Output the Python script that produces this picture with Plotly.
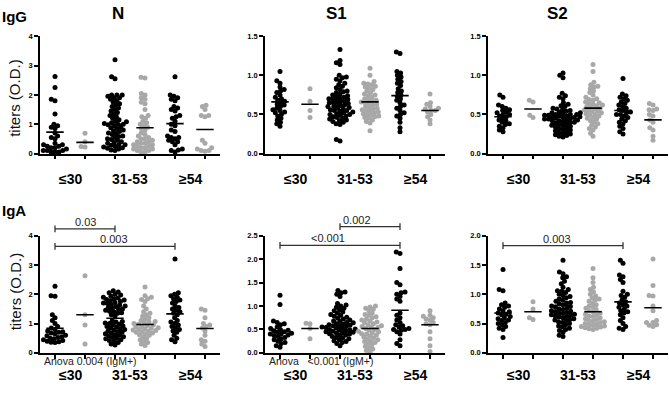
import numpy as np
import plotly.graph_objects as go

# ---------------- data ----------------
age_groups = ["≤30", "31-53", "≥54"]
antigens = ["N", "S1", "S2"]
isotypes = ["IgG", "IgA"]

# each panel: six groups -> (≤30 black, ≤30 grey, 31-53 black, 31-53 grey, ≥54 black, ≥54 grey)
N_IgG = [
    [2.63, 2.25, 1.85, 1.8, 1.35, 1.0, 0.95, 0.9, 0.85, 0.7, 0.6, 0.55, 0.5, 0.35, 0.3, 0.3,
     0.25, 0.25, 0.2, 0.2, 0.15, 0.15, 0.1, 0.1, 0.1, 0.05, 0.05, 0.05],
    [0.69, 0.4, 0.24, 0.22],
    [3.2, 2.62, 2.55, 2.0, 2.0, 2.0, 1.95, 1.9, 1.9, 1.85, 1.8, 1.75, 1.7, 1.65, 1.6, 1.55, 1.5,
     1.45, 1.4, 1.35, 1.3, 1.25, 1.2, 1.15, 1.1, 1.08, 1.05, 1.02, 1.0, 1.0, 0.98, 0.95, 0.9, 0.88,
     0.85, 0.8, 0.78, 0.75, 0.7, 0.68, 0.65, 0.6, 0.58, 0.55, 0.5, 0.48, 0.45, 0.4, 0.38, 0.35, 0.3,
     0.3, 0.28, 0.25, 0.22, 0.2, 0.18, 0.15, 0.12, 0.1],
    [2.6, 2.58, 2.05, 2.0, 1.9, 1.85, 1.75, 1.7, 1.5, 1.3, 1.25, 1.2, 1.1, 1.05, 1.0, 0.95, 0.9,
     0.85, 0.8, 0.7, 0.65, 0.6, 0.55, 0.5, 0.5, 0.45, 0.4, 0.4, 0.35, 0.35, 0.3, 0.3, 0.25, 0.25,
     0.2, 0.2, 0.15, 0.15, 0.1, 0.1, 0.05, 0.05],
    [2.62, 2.0, 1.95, 1.9, 1.85, 1.8, 1.6, 1.55, 1.5, 1.45, 1.3, 1.25, 1.2, 1.1, 1.0, 0.95, 0.8,
     0.75, 0.6, 0.55, 0.55, 0.5, 0.45, 0.4, 0.4, 0.3, 0.15, 0.12, 0.1, 0.05],
    [1.65, 1.6, 1.5, 1.3, 1.3, 1.25, 0.45, 0.35, 0.2, 0.15, 0.1, 0.1, 0.08],
]
N_IgG_line = [0.73, 0.38, 1.0, 0.88, 1.02, 0.82]

S1_IgG = [
    [1.05, 0.93, 0.9, 0.85, 0.82, 0.8, 0.78, 0.75, 0.72, 0.7, 0.68, 0.67, 0.65, 0.63, 0.62, 0.6,
     0.58, 0.56, 0.55, 0.53, 0.52, 0.5, 0.48, 0.45, 0.43, 0.4, 0.38, 0.35],
    [0.83, 0.67, 0.55, 0.46],
    [1.33, 1.19, 1.16, 1.14, 1.0, 0.98, 0.97, 0.95, 0.93, 0.9, 0.88, 0.86, 0.84, 0.82, 0.8, 0.79,
     0.78, 0.76, 0.75, 0.74, 0.73, 0.72, 0.71, 0.7, 0.7, 0.69, 0.68, 0.67, 0.66, 0.65, 0.65, 0.64,
     0.63, 0.62, 0.61, 0.6, 0.6, 0.59, 0.58, 0.57, 0.56, 0.55, 0.55, 0.54, 0.53, 0.52, 0.51, 0.5,
     0.5, 0.49, 0.48, 0.47, 0.46, 0.45, 0.44, 0.43, 0.42, 0.41, 0.4, 0.38, 0.37, 0.18, 0.16],
    [1.09, 1.0, 0.92, 0.9, 0.89, 0.88, 0.86, 0.85, 0.84, 0.82, 0.8, 0.78, 0.76, 0.75, 0.74, 0.72,
     0.7, 0.69, 0.68, 0.67, 0.66, 0.65, 0.64, 0.63, 0.62, 0.6, 0.59, 0.58, 0.57, 0.56, 0.55, 0.54,
     0.53, 0.52, 0.51, 0.5, 0.49, 0.48, 0.47, 0.46, 0.45, 0.43, 0.41, 0.39, 0.29],
    [1.3, 1.28, 1.05, 1.03, 1.0, 0.98, 0.95, 0.92, 0.9, 0.87, 0.83, 0.8, 0.78, 0.75, 0.73, 0.7,
     0.68, 0.65, 0.62, 0.6, 0.58, 0.55, 0.52, 0.5, 0.48, 0.45, 0.4, 0.33, 0.28],
    [0.76, 0.65, 0.63, 0.6, 0.58, 0.57, 0.55, 0.55, 0.53, 0.5, 0.47, 0.43, 0.38],
]
S1_IgG_line = [0.66, 0.63, 0.68, 0.66, 0.74, 0.55]

S2_IgG = [
    [0.75, 0.72, 0.62, 0.6, 0.58, 0.56, 0.55, 0.53, 0.52, 0.5, 0.5, 0.48, 0.47, 0.45, 0.43, 0.42,
     0.4, 0.38, 0.37, 0.35, 0.33, 0.3, 0.28],
    [0.68, 0.66, 0.49, 0.46],
    [1.03, 1.0, 0.97, 0.77, 0.74, 0.72, 0.7, 0.65, 0.63, 0.61, 0.6, 0.58, 0.57, 0.56, 0.55, 0.54,
     0.53, 0.52, 0.52, 0.51, 0.5, 0.5, 0.5, 0.49, 0.49, 0.48, 0.48, 0.47, 0.47, 0.46, 0.46, 0.45,
     0.45, 0.44, 0.44, 0.43, 0.43, 0.42, 0.42, 0.41, 0.4, 0.4, 0.39, 0.38, 0.37, 0.36, 0.36, 0.35,
     0.34, 0.33, 0.32, 0.31, 0.3, 0.29, 0.28, 0.27, 0.26, 0.25, 0.24, 0.23, 0.22, 0.21],
    [1.14, 1.05, 0.91, 0.88, 0.86, 0.85, 0.83, 0.8, 0.78, 0.75, 0.72, 0.7, 0.69, 0.68, 0.66, 0.65,
     0.64, 0.63, 0.62, 0.61, 0.6, 0.59, 0.58, 0.57, 0.56, 0.55, 0.54, 0.53, 0.52, 0.51, 0.5, 0.49,
     0.48, 0.46, 0.45, 0.44, 0.42, 0.4, 0.38, 0.36, 0.34, 0.32, 0.3, 0.26, 0.22],
    [0.96, 0.76, 0.74, 0.72, 0.7, 0.68, 0.66, 0.64, 0.62, 0.6, 0.58, 0.56, 0.55, 0.53, 0.52, 0.5,
     0.5, 0.48, 0.46, 0.44, 0.42, 0.4, 0.38, 0.35, 0.32, 0.28, 0.25],
    [0.64, 0.62, 0.57, 0.56, 0.55, 0.5, 0.48, 0.43, 0.4, 0.33, 0.3, 0.22, 0.17],
]
S2_IgG_line = [0.47, 0.57, 0.48, 0.58, 0.55, 0.43]

N_IgA = [
    [2.27, 1.95, 1.93, 1.3, 1.2, 1.1, 1.0, 0.9, 0.85, 0.8, 0.75, 0.72, 0.7, 0.68, 0.65, 0.6, 0.58,
     0.55, 0.52, 0.5, 0.48, 0.45, 0.42, 0.4, 0.38, 0.36, 0.35],
    [2.63, 1.3, 0.95, 0.3],
    [2.12, 2.08, 2.05, 2.0, 1.97, 1.93, 1.9, 1.87, 1.85, 1.82, 1.8, 1.78, 1.75, 1.72, 1.7, 1.68,
     1.65, 1.62, 1.6, 1.58, 1.55, 1.52, 1.5, 1.48, 1.45, 1.42, 1.4, 1.37, 1.35, 1.3, 1.25, 1.1,
     1.07, 1.05, 1.02, 1.0, 0.98, 0.95, 0.92, 0.9, 0.88, 0.85, 0.82, 0.8, 0.78, 0.75, 0.72, 0.7,
     0.68, 0.65, 0.62, 0.6, 0.58, 0.55, 0.52, 0.5, 0.48, 0.45, 0.42, 0.4, 0.35, 0.3, 0.27],
    [2.25, 1.95, 1.9, 1.85, 1.82, 1.75, 1.6, 1.5, 1.4, 1.35, 1.3, 1.25, 1.2, 1.15, 1.1, 1.07, 1.05,
     1.02, 1.0, 0.98, 0.95, 0.93, 0.9, 0.88, 0.86, 0.84, 0.82, 0.8, 0.78, 0.76, 0.74, 0.72, 0.7,
     0.68, 0.65, 0.62, 0.6, 0.55, 0.5, 0.45, 0.4, 0.35, 0.3, 0.25],
    [3.2, 2.05, 2.0, 1.95, 1.9, 1.85, 1.8, 1.75, 1.7, 1.6, 1.55, 1.5, 1.45, 1.4, 1.35, 1.3, 1.2,
     1.1, 1.05, 1.0, 0.95, 0.9, 0.85, 0.8, 0.75, 0.7, 0.6, 0.5, 0.45, 0.38],
    [1.5, 1.45, 1.2, 1.0, 0.95, 0.9, 0.85, 0.75, 0.6, 0.45, 0.4, 0.3, 0.22],
]
N_IgA_line = [0.84, 1.3, 1.18, 0.97, 1.33, 0.83]

S1_IgA = [
    [1.23, 1.03, 0.68, 0.65, 0.62, 0.6, 0.55, 0.52, 0.5, 0.48, 0.47, 0.45, 0.44, 0.42, 0.4, 0.4,
     0.38, 0.37, 0.35, 0.33, 0.3, 0.28, 0.25, 0.22, 0.2, 0.15, 0.12],
    [0.63, 0.62, 0.52, 0.3],
    [1.33, 1.3, 1.28, 1.25, 1.2, 1.05, 1.02, 1.0, 0.97, 0.95, 0.92, 0.9, 0.87, 0.85, 0.82, 0.8,
     0.78, 0.76, 0.74, 0.72, 0.7, 0.68, 0.67, 0.65, 0.64, 0.62, 0.61, 0.6, 0.59, 0.58, 0.57, 0.56,
     0.55, 0.54, 0.53, 0.52, 0.51, 0.5, 0.49, 0.48, 0.47, 0.46, 0.45, 0.44, 0.43, 0.42, 0.41, 0.4,
     0.38, 0.37, 0.35, 0.33, 0.32, 0.3, 0.28, 0.26, 0.24, 0.22, 0.2, 0.15],
    [1.0, 0.98, 0.95, 0.93, 0.9, 0.85, 0.82, 0.8, 0.77, 0.75, 0.72, 0.7, 0.68, 0.66, 0.64, 0.62,
     0.6, 0.58, 0.56, 0.55, 0.54, 0.52, 0.5, 0.48, 0.46, 0.45, 0.43, 0.41, 0.4, 0.38, 0.36, 0.34,
     0.32, 0.3, 0.28, 0.26, 0.24, 0.22, 0.2, 0.17, 0.14, 0.11, 0.08, 0.05, 0.02],
    [2.15, 2.12, 1.8, 1.5, 1.45, 1.3, 1.28, 1.25, 1.2, 1.15, 1.1, 0.85, 0.8, 0.75, 0.7, 0.65, 0.6,
     0.58, 0.55, 0.52, 0.5, 0.5, 0.48, 0.45, 0.4, 0.28, 0.2, 0.15],
    [0.9, 0.8, 0.78, 0.75, 0.72, 0.7, 0.65, 0.62, 0.6, 0.45, 0.3, 0.15, 0.03],
]
S1_IgA_line = [0.47, 0.52, 0.57, 0.52, 0.91, 0.6]

S2_IgA = [
    [1.42, 1.08, 1.06, 0.85, 0.82, 0.8, 0.78, 0.75, 0.72, 0.7, 0.68, 0.66, 0.65, 0.62, 0.6, 0.58,
     0.56, 0.55, 0.52, 0.5, 0.48, 0.45, 0.42, 0.4, 0.26],
    [0.87, 0.75, 0.6, 0.57],
    [1.58, 1.38, 1.35, 1.3, 1.28, 1.22, 1.18, 1.12, 1.08, 1.06, 1.05, 1.03, 1.0, 0.98, 0.96, 0.94,
     0.92, 0.9, 0.88, 0.86, 0.85, 0.84, 0.82, 0.8, 0.79, 0.78, 0.76, 0.75, 0.74, 0.72, 0.71, 0.7,
     0.69, 0.68, 0.67, 0.66, 0.65, 0.64, 0.63, 0.62, 0.61, 0.6, 0.58, 0.57, 0.56, 0.55, 0.53, 0.52,
     0.5, 0.48, 0.46, 0.44, 0.42, 0.4, 0.38, 0.35, 0.3, 0.28],
    [1.44, 1.28, 1.2, 1.12, 1.08, 1.04, 1.0, 0.97, 0.94, 0.92, 0.9, 0.88, 0.85, 0.82, 0.8, 0.78,
     0.76, 0.74, 0.72, 0.7, 0.68, 0.66, 0.65, 0.63, 0.62, 0.6, 0.58, 0.57, 0.55, 0.54, 0.53, 0.52,
     0.5, 0.49, 0.48, 0.47, 0.46, 0.45, 0.44, 0.43, 0.42, 0.41, 0.4],
    [1.58, 1.53, 1.33, 1.3, 1.25, 1.2, 1.05, 1.0, 0.98, 0.95, 0.9, 0.87, 0.85, 0.82, 0.8, 0.78,
     0.75, 0.72, 0.7, 0.68, 0.65, 0.6, 0.55, 0.5, 0.45, 0.42, 0.4],
    [1.6, 1.15, 0.98, 0.97, 0.8, 0.72, 0.55, 0.52, 0.52, 0.48, 0.47, 0.45],
]
S2_IgA_line = [0.68, 0.7, 0.81, 0.7, 0.87, 0.77]

# p-value brackets: (panel index, from group, to group, bracket level, label)
brackets = [
    (3, 1, 3, 4.23, "0.03"),
    (3, 1, 5, 3.63, "0.003"),
    (4, 3, 5, 2.69, "0.002"),
    (4, 1, 5, 2.29, "&lt;0.001"),
    (5, 1, 5, 1.83, "0.003"),
]
bracket_text_x = [2.0, 2.97, 3.57, 2.6, 2.8]
anova_notes = [(3, "Anova 0.004 (IgM+)"), (4, "Anova\u00a0\u00a0 &lt;0.001 (IgM+)")]

# ---------------- layout helpers ----------------
W, H = 669, 395
col_x0 = [40, 265, 488]
row_top = [33, 237]
PW, PH = 180, 120
BLACK = "#000000"
GREY = "#a8a8a8"
group_colors = [BLACK, GREY, BLACK, GREY, BLACK, GREY]

panels = [
    (N_IgG, N_IgG_line, 4.0, 1.0),
    (S1_IgG, S1_IgG_line, 1.5, 0.5),
    (S2_IgG, S2_IgG_line, 1.5, 0.5),
    (N_IgA, N_IgA_line, 4.0, 1.0),
    (S1_IgA, S1_IgA_line, 2.5, 0.5),
    (S2_IgA, S2_IgA_line, 2.0, 0.5),
]


def swarm(vals, px_per_unit, d=4.0):
    vals = np.asarray(vals, float)
    order = np.argsort(vals)
    ys = vals * px_per_unit
    xs = np.zeros(len(vals))
    placed = []
    for i in order:
        y = ys[i]
        cands = [0.0]
        near = [(xj, y - yj) for xj, yj in placed if abs(y - yj) < d]
        for xj, dy in near:
            dx = np.sqrt(d * d - dy * dy)
            cands += [xj + dx, xj - dx]
        cands.sort(key=lambda c: (abs(c), c))
        for c in cands:
            if all((c - xj) ** 2 + dy ** 2 >= d * d - 1e-6 for xj, dy in near):
                xs[i] = c
                break
        placed.append((xs[i], y))
    return xs


fig = go.Figure()
layout = dict(width=W, height=H, margin=dict(l=0, r=0, t=0, b=0),
              plot_bgcolor="white", paper_bgcolor="white", showlegend=False,
              font=dict(family="Arial", color="#000"))
annotations = []
shapes = []

for k, (groups, lines, ymax, dtick) in enumerate(panels):
    r, c = divmod(k, 3)
    n = k + 1
    xa = "x" if n == 1 else f"x{n}"
    ya = "y" if n == 1 else f"y{n}"
    x0 = col_x0[c]
    top = row_top[r]
    px_unit_y = PH / ymax
    for g, vals in enumerate(groups):
        pos = g + 1
        offs = swarm(vals, px_unit_y) / 30.0
        fig.add_trace(go.Scatter(
            x=pos + offs, y=vals, mode="markers", xaxis=xa, yaxis=ya,
            marker=dict(size=5, color=group_colors[g], line=dict(width=0)),
            cliponaxis=False, hoverinfo="skip"))
    for g, m in enumerate(lines):
        pos = g + 1
        fig.add_trace(go.Scatter(
            x=[pos - 0.29, pos + 0.29], y=[m, m], mode="lines", xaxis=xa, yaxis=ya,
            line=dict(color="#000", width=1.6), hoverinfo="skip"))
    tickvals = list(np.round(np.arange(0, ymax + 1e-9, dtick), 2))
    ticktext = [f"{v:.0f}" if dtick >= 1 else f"{v:.1f}" for v in tickvals]
    layout["xaxis" if n == 1 else f"xaxis{n}"] = dict(
        domain=[x0 / W, (x0 + PW) / W], range=[0.5, 6.5], anchor=ya,
        showline=True, linecolor="#000", linewidth=1.5, ticks="outside", ticklen=4,
        tickwidth=1.5, tickcolor="#000", tickvals=[1, 2, 3, 4, 5, 6], showticklabels=False,
        showgrid=False, zeroline=False, fixedrange=True)
    layout["yaxis" if n == 1 else f"yaxis{n}"] = dict(
        domain=[1 - (top + PH) / H, 1 - top / H], range=[0, ymax], anchor=xa,
        showline=True, linecolor="#000", linewidth=1.5, ticks="outside", ticklen=4,
        tickwidth=1.5, tickcolor="#000", tickvals=tickvals, ticktext=ticktext,
        tickfont=dict(size=7.5, weight="bold", color="#000"),
        showgrid=False, zeroline=False, fixedrange=True)
    # age-group labels
    for j, lab in enumerate(age_groups):
        annotations.append(dict(
            x=1.5 + 2 * j, y=1 - (179 if r == 0 else 380) / H, xref=xa, yref="paper",
            text=lab, showarrow=False, font=dict(size=14, weight="bold", color="#000"),
            xanchor="center", yanchor="middle"))

# column titles
title_x = [3.1, 2.87, 2.83]
for c, t in enumerate(antigens):
    annotations.append(dict(x=title_x[c], y=1 - 10 / H, xref="x" if c == 0 else f"x{c + 1}",
                            yref="paper", text=t, showarrow=False,
                            font=dict(size=17, weight="bold", color="#000"),
                            xanchor="center", yanchor="middle"))
# row labels
for r, t in enumerate(isotypes):
    annotations.append(dict(x=0, y=1 - (13 if r == 0 else 211) / H, xref="paper", yref="paper",
                            text=t, showarrow=False,
                            font=dict(size=15, weight="bold", color="#000"),
                            xanchor="left", yanchor="middle"))
    annotations.append(dict(x=15 / W, y=1 - (96 if r == 0 else 294) / H, xref="paper",
                            yref="paper", text="titers (O.D.)", showarrow=False,
                            textangle=-90, font=dict(size=15, color="#111"),
                            xanchor="center", yanchor="middle"))

# p-value brackets
for (k, g1, g2, lvl, lab), tx in zip(brackets, bracket_text_x):
    n = k + 1
    ymax = panels[k][2]
    xd = lambda g: (g - 0.5) / 6.0
    yd = lvl / ymax
    tick = 3.5 / PH
    ref_x, ref_y = f"x{n} domain", f"y{n} domain"
    shapes.append(dict(type="line", xref=ref_x, yref=ref_y, x0=xd(g1), x1=xd(g2), y0=yd, y1=yd,
                       line=dict(color="#333", width=1.3)))
    for g in (g1, g2):
        shapes.append(dict(type="line", xref=ref_x, yref=ref_y, x0=xd(g), x1=xd(g),
                           y0=yd - tick, y1=yd + tick, line=dict(color="#333", width=1.3)))
    annotations.append(dict(x=xd(tx), y=yd, xref=ref_x, yref=ref_y, text=lab, showarrow=False,
                            font=dict(size=11, color="#222"), xanchor="center",
                            yanchor="bottom", yshift=-1))

for k, lab in anova_notes:
    n = k + 1
    annotations.append(dict(x=0.57, y=1 - 365 / H, xref=f"x{n}", yref="paper", text=lab,
                            showarrow=False, font=dict(size=10.5, color="#222"),
                            xanchor="left", yanchor="middle"))

layout["annotations"] = annotations
layout["shapes"] = shapes
fig.update_layout(**layout)
fig.write_html("out.html", config={"displayModeBar": False},
               post_script="document.body.style.margin='0';document.body.style.overflow='hidden';")
